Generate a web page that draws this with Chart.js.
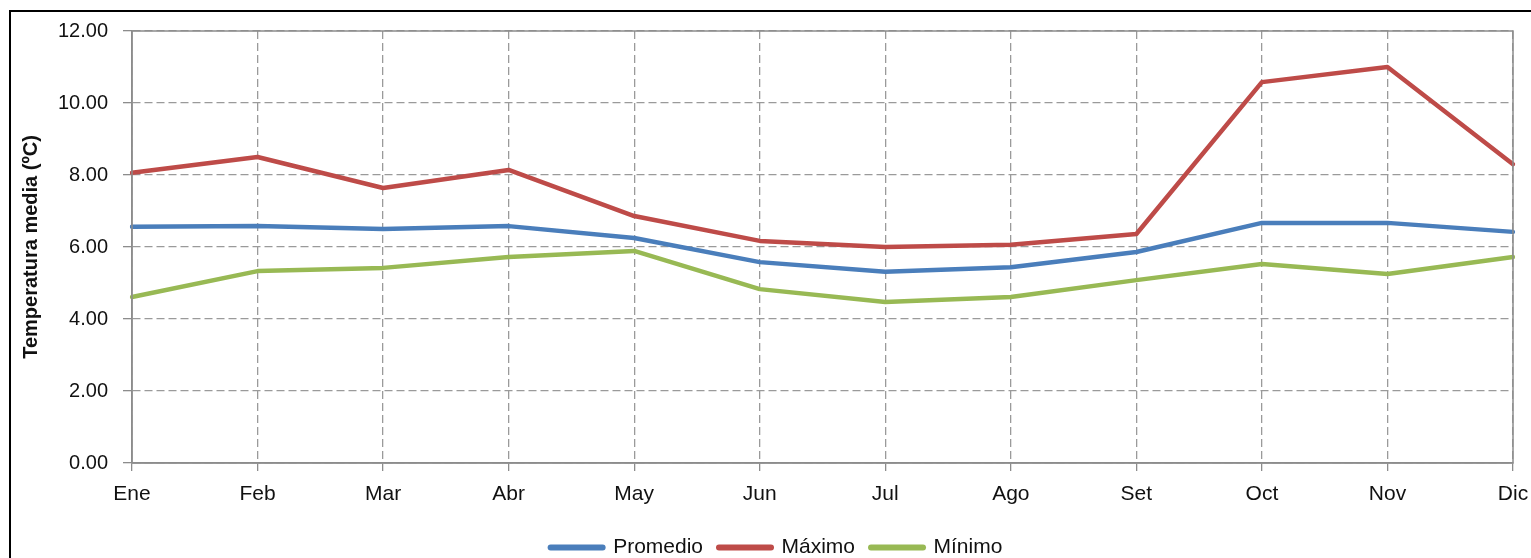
<!DOCTYPE html>
<html>
<head>
<meta charset="utf-8">
<script src="https://cdn.jsdelivr.net/npm/chart.js@4"></script>
<style>
  body { margin: 0; background: #fff; }
  #wrap { position: relative; width: 1531px; height: 558px; overflow: hidden; background: #fff; }
  #frame { position: absolute; left: 9px; top: 10px; width: 1600px; height: 700px; border: 2px solid #000; box-sizing: border-box; }
  #box { position: absolute; left: 0; top: 0; width: 1531px; height: 568px; }
</style>
</head>
<body>
<div id="wrap">
  <div id="frame"></div>
  <div id="box"><canvas id="chart_temp"></canvas></div>
</div>
<script>
const meses = ['Ene', 'Feb', 'Mar', 'Abr', 'May', 'Jun', 'Jul', 'Ago', 'Set', 'Oct', 'Nov', 'Dic'];
const promedio = [6.56, 6.58, 6.50, 6.58, 6.25, 5.58, 5.31, 5.44, 5.86, 6.67, 6.67, 6.42];
const maximo = [8.06, 8.50, 7.64, 8.14, 6.86, 6.17, 6.00, 6.06, 6.36, 10.58, 11.00, 8.30];
const minimo = [4.61, 5.33, 5.42, 5.72, 5.89, 4.83, 4.47, 4.61, 5.08, 5.53, 5.25, 5.72];

const chart_temp = document.getElementById('chart_temp');
const fuente = "'Liberation Sans', Arial, sans-serif";

// marco gris solido alrededor del area de trazado
const marco = {
  id: 'marco',
  afterDraw(chart) {
    const a = chart.chartArea;
    const ctx = chart.ctx;
    ctx.save();
    ctx.strokeStyle = '#8c8c8c';
    ctx.lineWidth = 1.5;
    ctx.strokeRect(a.left, a.top, a.right - a.left, a.bottom - a.top);
    ctx.restore();
  }
};

const serie = (label, data, color) => ({
  label: label,
  data: data,
  borderColor: color,
  backgroundColor: color,
  borderWidth: 4.5,
  borderCapStyle: 'round',
  borderJoinStyle: 'round',
  pointRadius: 0,
  tension: 0
});

new Chart(chart_temp, {
  type: 'line',
  data: {
    labels: meses,
    datasets: [
      serie('Promedio', promedio, '#4a7ebb'),
      serie('Máximo', maximo, '#be4b48'),
      serie('Mínimo', minimo, '#98b954')
    ]
  },
  options: {
    responsive: true,
    maintainAspectRatio: false,
    animation: false,
    layout: { padding: { top: 31, right: 18, left: 40, bottom: 0 } },
    scales: {
      x: {
        offset: false,
        grid: { color: '#9a9a9a', lineWidth: 1.3, tickLength: 8, tickBorderDash: [], tickColor: '#8c8c8c' },
        border: { display: true, color: '#8c8c8c', width: 1.5, dash: [8, 4] },
        ticks: { color: '#111', font: { family: fuente, size: 21 }, padding: 11, maxRotation: 0 },
        afterFit: (s) => { s.height = 58; s.paddingRight = 0; s.paddingLeft = 0; }
      },
      y: {
        min: 0,
        max: 12,
        grid: { color: '#9a9a9a', lineWidth: 1.3, tickLength: 9, tickBorderDash: [], tickColor: '#8c8c8c' },
        border: { display: true, color: '#8c8c8c', width: 1.5, dash: [8, 4] },
        ticks: {
          stepSize: 2,
          color: '#111',
          font: { family: fuente, size: 20 },
          padding: 15,
          callback: (v) => v.toFixed(2)
        },
        title: {
          display: true,
          text: 'Temperatura media (ºC)',
          color: '#111',
          font: { family: fuente, size: 20, weight: 'bold' },
          padding: { top: -21, bottom: 0 }
        },
        afterFit: (s) => { s.width = 92; }
      }
    },
    plugins: {
      legend: {
        position: 'bottom',
        labels: {
          usePointStyle: true,
          pointStyle: 'line',
          pointStyleWidth: 52,
          padding: 16,
          color: '#111',
          font: { family: fuente, size: 21 },
          generateLabels: (chart) => Chart.defaults.plugins.legend.labels.generateLabels(chart)
            .map((l) => Object.assign(l, { lineWidth: 6, lineCap: 'round' }))
        }
      },
      tooltip: { enabled: false }
    }
  },
  plugins: [marco]
});
</script>
</body>
</html>
